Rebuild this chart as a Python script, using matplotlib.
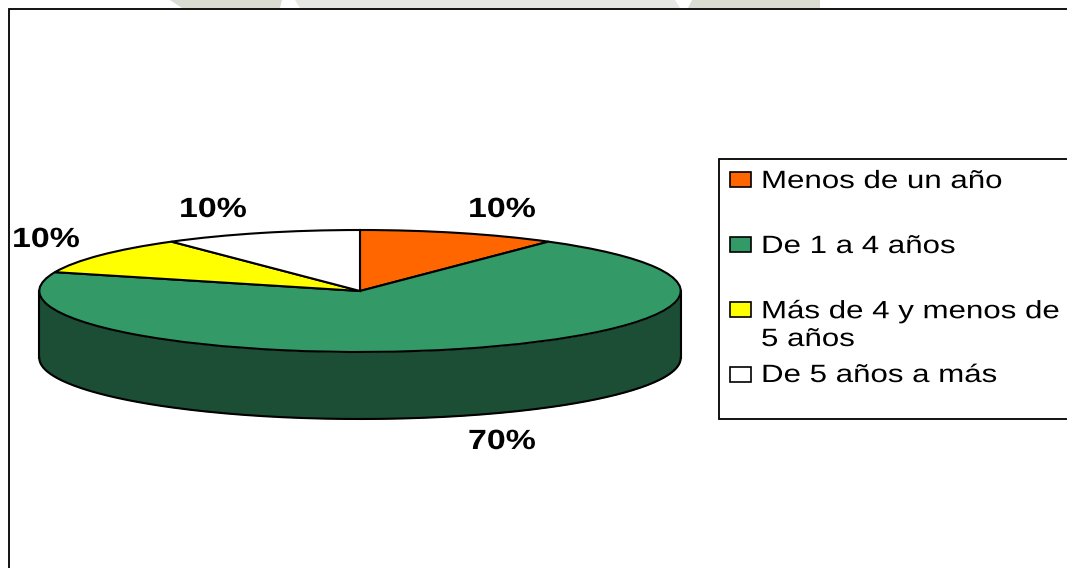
import numpy as np
from matplotlib import pyplot as plt
from matplotlib.patheffects import AbstractPathEffect
from matplotlib.transforms import Affine2D
from matplotlib.patches import Rectangle, Polygon

categories = ["Menos de un año", "De 1 a 4 años", "Más de 4 y menos de\n5 años", "De 5 años a más"]
values = [10, 70, 10, 10]
colors = ["#FF6600", "#339966", "#FFFF00", "#FFFFFF"]
pct_labels = ["10%", "70%", "10%", "10%"]

W, H = 1067, 568
plt.rcParams['font.family'] = ['Liberation Sans', 'DejaVu Sans']


# the original text is stretched sideways
class Stretch(AbstractPathEffect):
    def __init__(self, sx):
        super().__init__()
        self.sx = sx

    def draw_path(self, renderer, gc, tpath, affine, rgbFace=None):
        renderer.draw_path(gc, tpath, Affine2D().scale(self.sx, 1) + affine, rgbFace)


fig = plt.figure(figsize=(W / 100, H / 100), dpi=100, facecolor="white")

# page coordinates, y going down
bg = fig.add_axes([0, 0, 1, 1])
bg.set_xlim(0, W)
bg.set_ylim(H, 0)
bg.axis("off")

# bit of the page watermark showing above the frame
bg.add_patch(Polygon([(170, 0), (282, 0), (280, 8), (182, 8)], fc="#D9DDD2", lw=0))
bg.add_patch(Polygon([(295, 0), (675, 0), (680, 8), (300, 8)], fc="#E6E9E3", lw=0))
bg.add_patch(Polygon([(692, 0), (820, 0), (820, 8), (688, 8)], fc="#D9DDD2", lw=0))

# frame, open on the right and at the bottom
bg.plot([9, 9, W], [H, 9, 9], color="black", lw=1.3, solid_joinstyle="miter")

# pie, top ellipse centre (360,291), rx 322, ry 61, wall 67
cx, cy, rx, ry, depth = 360, 291, 322, 61, 67
left = (cx - rx) / W
bottom = 1 - (cy + ry + depth) / H
ax = fig.add_axes([left, bottom, 2 * rx / W, (2 * ry + depth) / H])
ax.patch.set_alpha(0)
d = depth / ry
t = np.linspace(0, np.pi, 200)
xs = -np.cos(t)
ys = -np.sin(t)
ax.fill_between(xs, ys, ys - d, color="#1C4D35", lw=0)
ax.plot(xs, ys - d, color="black", lw=1.5)
ax.plot([-1, -1], [0, -d], color="black", lw=1.5)
ax.plot([1, 1], [0, -d], color="black", lw=1.5)
ax.pie(values, colors=colors, startangle=90, counterclock=False,
       wedgeprops=dict(edgecolor="black", linewidth=1.5))
ax.set_aspect("auto")
ax.set_xlim(-1.004, 1.004)
ax.set_ylim(-1 - d, 1)
for line in ax.lines:
    line.set_clip_on(False)

# data labels
label_pos = [(468, 210), (468, 442), (12, 240), (179, 210)]
for txt, (x, y) in zip(pct_labels, label_pos):
    t_ = bg.text(x, y, txt, fontsize=20, fontweight="bold", ha="left", va="center", color="black")
    t_.set_path_effects([Stretch(1.22)])

# legend box
bg.add_patch(Rectangle((719, 159), W + 5 - 719, 260, fc="white", ec="black", lw=1.3))
marker_y = [179, 244, 309, 374]
baseline_y = [188, 253, 346, 382]
for c, txt, my, by in zip(colors, categories, marker_y, baseline_y):
    bg.add_patch(Rectangle((730, my - 7.5), 21, 15, fc=c, ec="black", lw=1.2))
    t_ = bg.text(761, by, txt, fontsize=18, ha="left", va="baseline", color="black",
                 linespacing=1.2)
    t_.set_path_effects([Stretch(1.25)])

fig.savefig("out.png", dpi=100)
